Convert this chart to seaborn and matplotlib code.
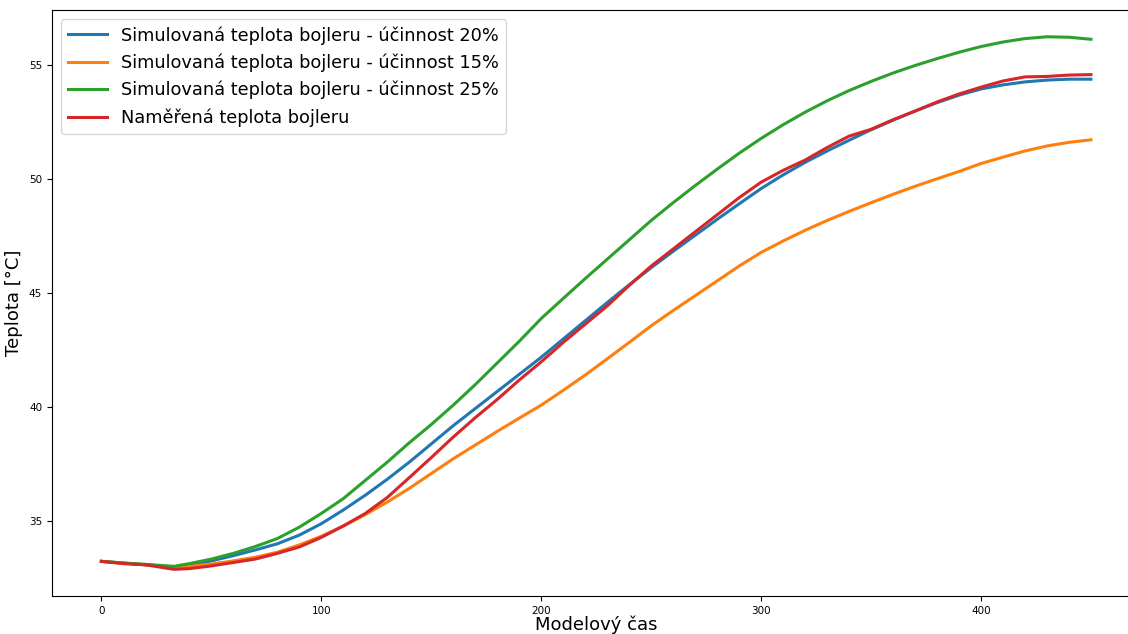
import matplotlib
matplotlib.use("Agg")
import matplotlib.pyplot as plt
import seaborn as sns

# --- DATA ---
cas = [0, 10, 20, 33, 40, 50, 60, 70, 80, 90, 100, 110, 120, 130, 140, 150, 160, 170, 180, 190,
       200, 210, 220, 230, 240, 250, 260, 270, 280, 290, 300, 310, 320, 330, 340, 350, 360, 370,
       380, 390, 400, 410, 420, 430, 440, 450]

sim_20 = [33.25, 33.17, 33.1, 33.0, 33.08, 33.27, 33.5, 33.75, 34.02, 34.4, 34.9, 35.5, 36.15,
          36.85, 37.6, 38.4, 39.2, 39.95, 40.7, 41.45, 42.2, 43.0, 43.8, 44.6, 45.38, 46.13, 46.85,
          47.55, 48.25, 48.93, 49.6, 50.2, 50.75, 51.25, 51.72, 52.18, 52.6, 53.0, 53.37, 53.7,
          53.97, 54.15, 54.28, 54.36, 54.4, 54.4]

sim_15 = [33.25, 33.17, 33.1, 33.0, 33.03, 33.13, 33.27, 33.43, 33.65, 33.97, 34.35, 34.8, 35.3,
          35.85, 36.45, 37.1, 37.75, 38.35, 38.95, 39.53, 40.1, 40.75, 41.42, 42.13, 42.85, 43.58,
          44.25, 44.9, 45.55, 46.2, 46.8, 47.3, 47.77, 48.2, 48.6, 48.98, 49.35, 49.7, 50.03, 50.35,
          50.7, 50.98, 51.25, 51.47, 51.63, 51.74]

sim_25 = [33.25, 33.18, 33.12, 33.03, 33.15, 33.35, 33.6, 33.9, 34.25, 34.75, 35.35, 36.0, 36.8,
          37.6, 38.45, 39.25, 40.1, 41.0, 41.95, 42.9, 43.9, 44.78, 45.65, 46.5, 47.35, 48.2, 48.98,
          49.73, 50.45, 51.15, 51.8, 52.4, 52.95, 53.45, 53.9, 54.3, 54.67, 55.0, 55.3, 55.58, 55.83,
          56.03, 56.18, 56.26, 56.24, 56.15]

namereno = [33.25, 33.15, 33.1, 32.9, 32.93, 33.05, 33.2, 33.35, 33.6, 33.88, 34.3, 34.8, 35.35,
            36.05, 36.92, 37.8, 38.7, 39.55, 40.35, 41.2, 42.0, 42.85, 43.65, 44.45, 45.35, 46.2,
            46.95, 47.7, 48.45, 49.2, 49.88, 50.4, 50.85, 51.4, 51.9, 52.2, 52.62, 53.0, 53.4, 53.75,
            54.05, 54.32, 54.5, 54.52, 54.58, 54.6]

labels = [
    "Simulovaná teplota bojleru - účinnost 20%",
    "Simulovaná teplota bojleru - účinnost 15%",
    "Simulovaná teplota bojleru - účinnost 25%",
    "Naměřená teplota bojleru",
]

fig = plt.figure(figsize=(11.28, 6.34), dpi=100)
ax = fig.add_axes([0.046, 0.06, 0.965, 0.924])

palette = sns.color_palette("tab10")
for i, (serie, label) in enumerate(zip([sim_20, sim_15, sim_25, namereno], labels)):
    sns.lineplot(x=cas, y=serie, ax=ax, color=palette[i], linewidth=2.2, label=label)

ax.set_xlabel("Modelový čas", fontsize=13, labelpad=0)
ax.set_ylabel("Teplota [°C]", fontsize=13)
ax.tick_params(axis="both", labelsize=7.5)
ax.legend(loc="upper left", fontsize=12.8, handlelength=2.2)

fig.savefig("out.png", dpi=100)
